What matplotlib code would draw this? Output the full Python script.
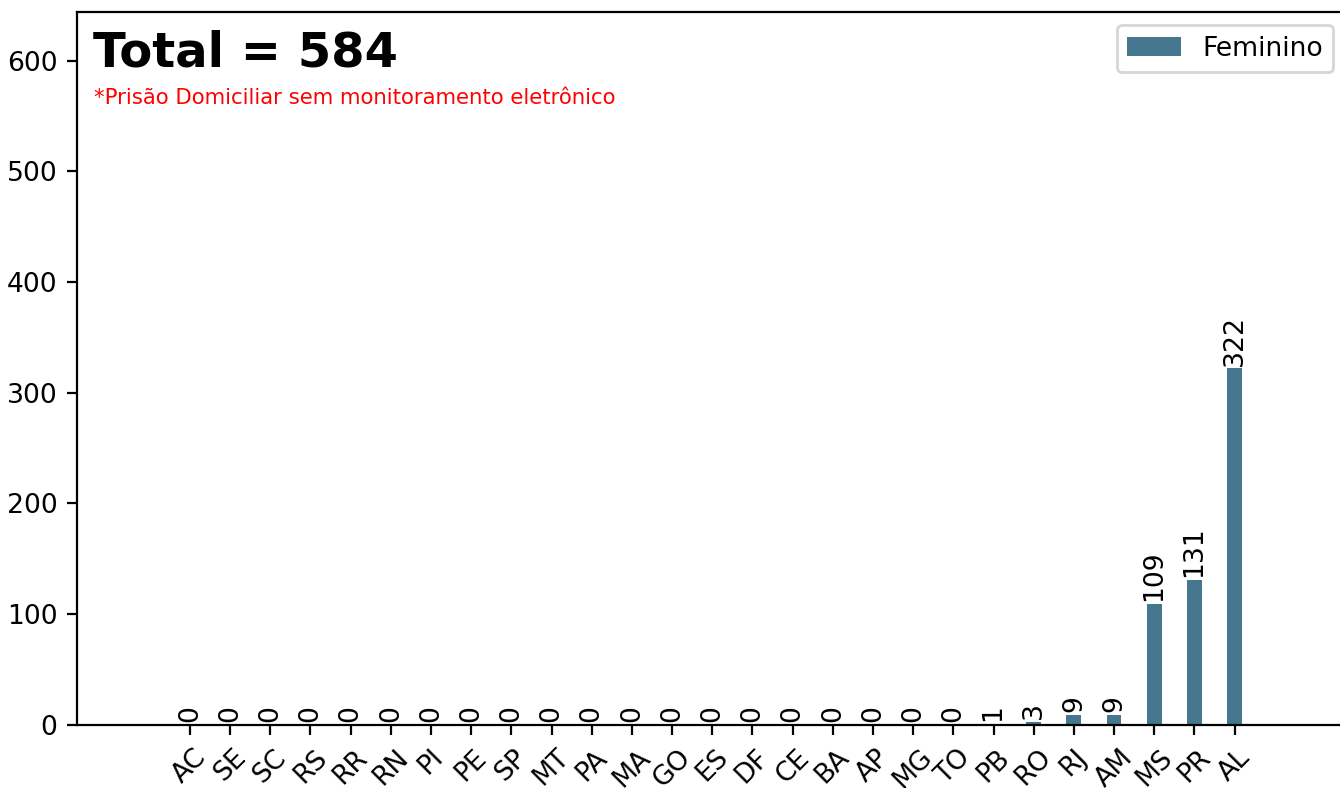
import numpy as np
import matplotlib
matplotlib.use('Agg')
import matplotlib.pyplot as plt

# Dados por UF
ufs = ['AC', 'SE', 'SC', 'RS', 'RR', 'RN', 'PI', 'PE', 'SP', 'MT', 'PA', 'MA', 'GO',
       'ES', 'DF', 'CE', 'BA', 'AP', 'MG', 'TO', 'PB', 'RO', 'RJ', 'AM', 'MS', 'PR', 'AL']
feminino = [0, 0, 0, 0, 0, 0, 0, 0, 0, 0, 0, 0, 0,
            0, 0, 0, 0, 0, 0, 0, 1, 3, 9, 9, 109, 131, 322]

total = sum(feminino)
x = np.arange(len(ufs))

fig, ax = plt.subplots(figsize=(6.7, 3.94), dpi=200)
# a imagem original aparece cortada na direita (sem a borda direita)
fig.subplots_adjust(left=0.0575, right=1.005, top=0.985, bottom=0.08)

barras = ax.bar(x, feminino, width=0.37, color='#45778f', label='Feminino')
ax.bar_label(barras, rotation=90, padding=1, fontsize=9.6)

ax.set_xticks(x)
ax.set_xticklabels(ufs, rotation=45, fontsize=9.6)
ax.tick_params(axis='y', labelsize=9.6)
ax.set_ylim(0, max(feminino) * 2)
ax.set_xlim(-2.81, len(ufs) - 1 + 2.79)

ax.text(0.0125, 0.975, 'Total = ' + str(total), transform=ax.transAxes,
        fontsize=17.3, fontweight='bold', va='top')
ax.text(0.0135, 0.893, '*Prisão Domiciliar sem monitoramento eletrônico',
        transform=ax.transAxes, fontsize=7.65, color='red', va='top')

ax.legend(loc='upper right', fontsize=9.6)

fig.savefig('out.png', dpi=200)
